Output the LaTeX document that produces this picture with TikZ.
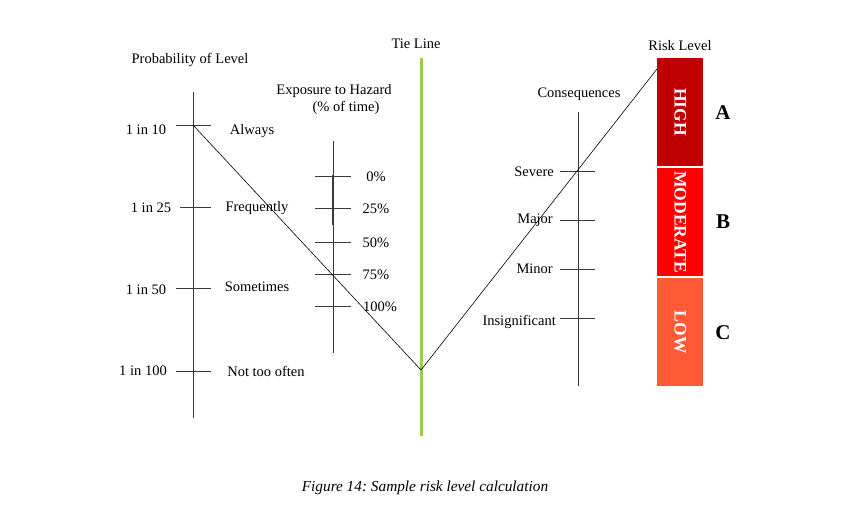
\documentclass[tikz,border=0pt]{standalone}
\usepackage{fontspec}
\setmainfont{Liberation Serif}
\frenchspacing
\definecolor{axisgray}{HTML}{3A3A3A}
\definecolor{tiegreen}{HTML}{92D050}
\definecolor{highred}{HTML}{C00000}
\definecolor{modred}{HTML}{FF0000}
\definecolor{lowred}{HTML}{FF5A36}
\begin{document}
\begin{tikzpicture}[x=1pt,y=-1pt,
  lbl/.style={font=\fontsize{14.5}{16}\selectfont, inner sep=0pt},
  axis/.style={draw=axisgray, line width=0.8pt},
  tick/.style={draw=axisgray, line width=0.8pt},
  riskbox/.style={draw=none, minimum width=46pt, minimum height=108pt, inner sep=0pt},
  risktxt/.style={text=white, font=\fontsize{17.5}{18}\selectfont\bfseries, rotate=-90},
  letter/.style={font=\fontsize{21}{22}\selectfont\bfseries, inner sep=0pt}]
\useasboundingbox (0,0) rectangle (859,515);
% Probability axis
\coordinate (pTop) at (193,92);
\coordinate (pBot) at (193,418);
\draw[axis] (pTop) -- (pBot);
\node[lbl] (ptitle) at (190,60) {Probability of Level};
\coordinate (p10a) at (176,125); \coordinate (p10b) at (211,125);
\coordinate (p25a) at (180,207); \coordinate (p25b) at (211,207);
\coordinate (p50a) at (176,288); \coordinate (p50b) at (211,288);
\coordinate (p100a) at (176,371); \coordinate (p100b) at (211,371);
\draw[tick] (p10a) -- (p10b);
\draw[tick] (p25a) -- (p25b);
\draw[tick] (p50a) -- (p50b);
\draw[tick] (p100a) -- (p100b);
\node[lbl] (l10) at (146,130) {1 in 10};
\node[lbl] (l25) at (151,208) {1 in 25};
\node[lbl] (l50) at (146,290) {1 in 50};
\node[lbl] (l100) at (143,371) {1 in 100};
\node[lbl] (always) at (252,131) {Always};
\node[lbl] (freq) at (257,208) {Frequently};
\node[lbl] (some) at (257,287) {Sometimes};
\node[lbl] (notoft) at (266,371) {Not too often};
% Exposure axis
\coordinate (eTop) at (333,141);
\coordinate (eBot) at (333,353);
\draw[axis] (eTop) -- (eBot);
\draw[axis, line width=1.4pt] (333,175) -- (333,225);
\node[lbl] (etitle1) at (334,91) {Exposure to Hazard};
\node[lbl] (etitle2) at (346,108) {(\% of time)};
\foreach \y/\t/\xx/\n in {176/0\%/376/e0, 208/25\%/376/e25, 242/50\%/376/e50, 274/75\%/376/e75, 306/100\%/380/e100}{
  \draw[tick] (315,\y) -- (351,\y);
  \node[lbl] (\n) at (\xx,\y+1) {\t};
}
% Tie line
\coordinate (tTop) at (421,58);
\coordinate (tBot) at (421,436);
\draw[draw=tiegreen, line width=3pt] (tTop) -- (tBot);
\node[lbl] (tie) at (416,44) {Tie Line};
% Consequences axis
\coordinate (cTop) at (578,112);
\coordinate (cBot) at (578,386);
\draw[axis] (cTop) -- (cBot);
\node[lbl] (ctitle) at (579,94) {Consequences};
\foreach \y in {171,220,269,318}{ \draw[tick] (560,\y) -- (595,\y); }
\node[lbl, anchor=east] (sev) at (554,172) {Severe};
\node[lbl, anchor=east] (maj) at (553,220) {Major};
\node[lbl, anchor=east] (mino) at (553,269) {Minor};
\node[lbl, anchor=east] (insig) at (556,322) {Insignificant};
% Risk level boxes
\node[lbl] (rtitle) at (680,46) {Risk Level};
\node[riskbox, fill=highred, anchor=north west] (high) at (657,58) {};
\node[riskbox, fill=modred, anchor=north west] (mod) at (657,168) {};
\node[riskbox, fill=lowred, anchor=north west] (low) at (657,278) {};
\node[risktxt] at (high.center) {HIGH};
\node[risktxt] at (mod.center) {MODERATE};
\node[risktxt] at (low.center) {LOW};
\node[letter] (A) at (723,113) {A};
\node[letter] (B) at (723,222) {B};
\node[letter] (C) at (723,333) {C};
% Connecting V line
\coordinate (vBot) at (421,370);
\coordinate (vEnd) at (657,69);
\draw[black, line width=0.6pt] (p10a -| pTop) -- (vBot) -- (vEnd);
% Caption
\node[lbl, font=\fontsize{15.3}{16}\selectfont\itshape] (cap) at (425,488) {Figure 14: Sample risk level calculation};
\end{tikzpicture}
\end{document}
